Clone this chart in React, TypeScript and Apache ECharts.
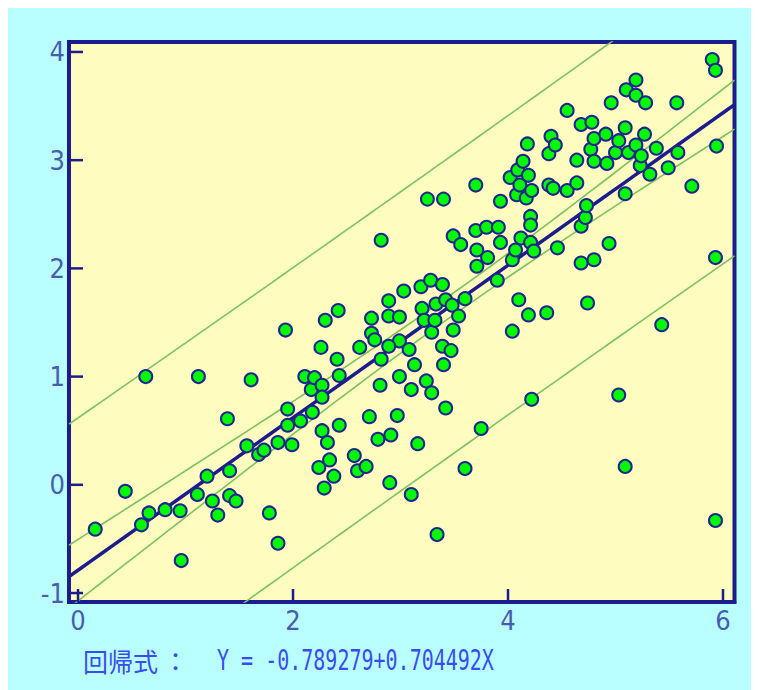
import React, { useEffect, useRef } from "react";
import * as echarts from "echarts";

// ---- data ----
const INTERCEPT = -0.789279;
const SLOPE = 0.704492;
const X_TICKS = [0, 2, 4, 6];
const Y_TICKS = [-1, 0, 1, 2, 3, 4];
const FORMULA_LABEL = "回帰式";
const FORMULA_TEXT = "Y = -0.789279+0.704492X";

const observations: [number, number][] = [
  [0.16, -0.41], [0.44, -0.06], [0.59, -0.37], [0.63, 1.0], [0.66, -0.26], [0.81, -0.23], [0.95, -0.24], [0.96, -0.7],
  [1.12, 1.0], [1.11, -0.09], [1.2, 0.08], [1.25, -0.15], [1.3, -0.28], [1.39, 0.61], [1.41, 0.13], [1.41, -0.1],
  [1.47, -0.15], [1.57, 0.36], [1.61, 0.97], [1.68, 0.28], [1.73, 0.32], [1.78, -0.26], [1.86, 0.39], [1.86, -0.54],
  [1.93, 1.43], [1.95, 0.7], [1.95, 0.55], [1.99, 0.37],
  [2.07, 0.59], [2.11, 1.0], [2.18, 0.67], [2.17, 0.88], [2.2, 0.99], [2.26, 1.27], [2.27, 0.92], [2.27, 0.81],
  [2.27, 0.5], [2.32, 0.39], [2.34, 0.23], [2.24, 0.16], [2.38, 0.08], [2.29, -0.03], [2.3, 1.52], [2.42, 1.61],
  [2.41, 1.16], [2.43, 1.01], [2.43, 0.55], [2.57, 0.27], [2.6, 0.13], [2.68, 0.17], [2.62, 1.27], [2.71, 0.63],
  [2.73, 1.54], [2.73, 1.4], [2.76, 1.34], [2.82, 1.16], [2.79, 0.42], [2.81, 0.92], [2.9, 0.02], [2.89, 1.7],
  [2.89, 1.56], [2.99, 1.55], [2.99, 1.33], [2.89, 1.28], [2.99, 1.0], [2.97, 0.64], [2.91, 0.46], [2.82, 2.26],
  [3.03, 1.79], [3.08, 1.25], [3.1, -0.09], [3.1, 0.88], [3.13, 1.11], [3.16, 0.38], [3.19, 1.83], [3.2, 1.63],
  [3.22, 1.52], [3.24, 0.96], [3.25, 2.64], [3.28, 1.89], [3.29, 1.41], [3.29, 0.85], [3.33, 1.67], [3.32, 1.52],
  [3.34, -0.46], [3.39, 1.85], [3.39, 1.28], [3.4, 1.11], [3.4, 2.64], [3.42, 1.71], [3.42, 0.71], [3.47, 1.24],
  [3.48, 1.66], [3.49, 1.43], [3.49, 2.3], [3.54, 1.56], [3.56, 2.22], [3.6, 1.72], [3.6, 0.15], [3.7, 2.77],
  [3.7, 2.35], [3.71, 2.17], [3.71, 2.02], [3.75, 0.52], [3.8, 2.38], [3.81, 2.1], [3.91, 2.38], [3.9, 1.89],
  [3.93, 2.62], [3.93, 2.24],
  [4.02, 2.84], [4.04, 2.08], [4.04, 1.42], [4.07, 2.17], [4.08, 2.68], [4.09, 2.91], [4.11, 2.77], [4.1, 1.71],
  [4.12, 2.28], [4.14, 2.99], [4.17, 2.65], [4.18, 3.15], [4.19, 2.86], [4.19, 1.57], [4.21, 2.48], [4.21, 2.4],
  [4.21, 2.24], [4.22, 2.72], [4.22, 0.79], [4.24, 2.16], [4.36, 1.59], [4.38, 3.06], [4.38, 2.77], [4.4, 3.22],
  [4.42, 2.74], [4.44, 3.14], [4.46, 2.19], [4.55, 2.72], [4.55, 3.46], [4.64, 3.0], [4.64, 2.79], [4.68, 3.33],
  [4.68, 2.39], [4.68, 2.05], [4.72, 2.47], [4.73, 2.58], [4.74, 1.68], [4.77, 3.1], [4.78, 3.35], [4.8, 3.2],
  [4.8, 2.99], [4.8, 2.08], [4.91, 3.24], [4.92, 2.97], [4.94, 2.23], [4.96, 3.53],
  [5.0, 3.07], [5.03, 3.18], [5.03, 0.83], [5.09, 3.3], [5.09, 2.69], [5.09, 0.17], [5.1, 3.65], [5.12, 3.07],
  [5.19, 3.74], [5.19, 3.6], [5.19, 3.14], [5.23, 2.95], [5.24, 3.04], [5.27, 3.24], [5.28, 3.53], [5.32, 2.87],
  [5.38, 3.11], [5.43, 1.48], [5.49, 2.93], [5.57, 3.53], [5.58, 3.07], [5.71, 2.76], [5.9, 3.93], [5.93, 3.83],
  [5.93, 2.1], [5.93, -0.33], [5.94, 3.13],
];

// axis extents read from the frame
const X_MIN = -0.084;
const X_MAX = 6.107;
const Y_MIN = -1.083;
const Y_MAX = 4.092;
const T_VALUE = 1.97; // 95% two-sided

function buildLines() {
  const n = observations.length;
  const xbar = observations.reduce((s, p) => s + p[0], 0) / n;
  const sxx = observations.reduce((s, p) => s + (p[0] - xbar) ** 2, 0);
  const sse = observations.reduce((s, p) => s + (p[1] - (INTERCEPT + SLOPE * p[0])) ** 2, 0);
  const sd = Math.sqrt(sse / (n - 2));
  const reg: number[][] = [];
  const ciU: number[][] = [];
  const ciL: number[][] = [];
  const piU: number[][] = [];
  const piL: number[][] = [];
  const steps = 60;
  for (let i = 0; i <= steps; i++) {
    const x = X_MIN + ((X_MAX - X_MIN) * i) / steps;
    const yhat = INTERCEPT + SLOPE * x;
    const k = 1 / n + (x - xbar) ** 2 / sxx;
    const ci = T_VALUE * sd * Math.sqrt(k);
    const pi = T_VALUE * sd * Math.sqrt(1 + k);
    reg.push([x, yhat]);
    ciU.push([x, yhat + ci]);
    ciL.push([x, yhat - ci]);
    piU.push([x, yhat + pi]);
    piL.push([x, yhat - pi]);
  }
  return { reg, ciU, ciL, piU, piL };
}

const NAVY = "#1c1c8c";
const BAND = "#7cc35f";
const TICK_LABEL = "#4a5cae";
const TEXT_BLUE = "#3a4cf0";
const NUM_FONT = "'Liberation Sans Narrow', 'DejaVu Sans Condensed', 'Roboto Condensed', 'Liberation Sans', sans-serif";

export default function App() {
  const ref = useRef<HTMLDivElement>(null);
  useEffect(() => {
    document.documentElement.style.overflow = "hidden";
    if (!ref.current) return;
    const chart = echarts.init(ref.current, undefined, { renderer: "svg" });
    const { reg, ciU, ciL, piU, piL } = buildLines();
    const bandSeries = (data: number[][]) => ({
      type: "line",
      data,
      symbol: "none",
      clip: true,
      silent: true,
      z: 2,
      lineStyle: { color: BAND, width: 1.6 },
    });
    chart.setOption({
      animation: false,
      backgroundColor: "#b9ffff",
      grid: {
        left: 61,
        top: 34,
        right: 24.5,
        bottom: 88,
        show: true,
        backgroundColor: "#fffcc0",
        borderColor: NAVY,
        borderWidth: 4,
      },
      xAxis: {
        type: "value",
        position: "bottom",
        min: X_MIN,
        max: X_MAX,
        axisLine: { show: true, onZero: false, lineStyle: { color: NAVY, width: 4 } },
        splitLine: { show: false },
        axisTick: { show: false },
        axisLabel: { customValues: X_TICKS, color: TICK_LABEL, fontSize: 27, fontFamily: NUM_FONT, margin: 5 },
      },
      yAxis: {
        type: "value",
        position: "left",
        min: Y_MIN,
        max: Y_MAX,
        axisLine: { show: true, onZero: false, lineStyle: { color: NAVY, width: 4 } },
        splitLine: { show: false },
        axisTick: { show: false },
        axisLabel: { customValues: Y_TICKS, color: TICK_LABEL, fontSize: 27, fontFamily: NUM_FONT, margin: 4 },
      },
      series: [
        bandSeries(piU),
        bandSeries(piL),
        bandSeries(ciU),
        bandSeries(ciL),
        {
          type: "line",
          data: reg,
          symbol: "none",
          clip: true,
          silent: true,
          z: 3,
          lineStyle: { color: NAVY, width: 3.5 },
        },
        {
          type: "scatter",
          data: observations,
          symbol: "circle",
          symbolSize: 13,
          z: 4,
          itemStyle: { color: "#00f800", borderColor: "#23238f", borderWidth: 2, opacity: 1 },
        },
        {
          // inward tick marks on the bottom frame, one per x tick value
          type: "custom",
          silent: true,
          clip: false,
          z: 6,
          data: X_TICKS.map((v) => [v, Y_MIN]),
          renderItem: (params: any, api: any) => {
            const p = api.coord([api.value(0), api.value(1)]);
            return {
              type: "line",
              shape: { x1: p[0], y1: p[1], x2: p[0], y2: p[1] - 13 },
              style: { stroke: NAVY, lineWidth: 2.5 },
            };
          },
        },
        {
          // inward tick marks on the left frame, one per y tick value
          type: "custom",
          silent: true,
          clip: false,
          z: 6,
          data: Y_TICKS.map((v) => [X_MIN, v]),
          renderItem: (params: any, api: any) => {
            const p = api.coord([api.value(0), api.value(1)]);
            return {
              type: "line",
              shape: { x1: p[0], y1: p[1], x2: p[0] + 14, y2: p[1] },
              style: { stroke: NAVY, lineWidth: 2.5 },
            };
          },
        },
      ],
      graphic: [
        {
          type: "text",
          x: 75,
          y: 652,
          scaleY: 1.06,
          style: {
            text: FORMULA_LABEL,
            fill: TEXT_BLUE,
            fontSize: 25,
            fontFamily: "'Noto Sans CJK JP', sans-serif",
            verticalAlign: "middle",
            align: "left",
          },
        },
        {
          type: "text",
          x: 155,
          y: 652,
          style: {
            text: "：",
            fill: TEXT_BLUE,
            fontSize: 25,
            fontFamily: "'Noto Sans CJK JP', sans-serif",
            verticalAlign: "middle",
            align: "left",
          },
        },
        {
          type: "text",
          x: 209,
          y: 652,
          scaleY: 1.4,
          style: {
            text: FORMULA_TEXT,
            fill: TEXT_BLUE,
            fontSize: 20,
            fontFamily: "'DejaVu Sans Mono', 'Liberation Mono', monospace",
            verticalAlign: "middle",
            align: "left",
          },
        },
      ],
    });
    return () => chart.dispose();
  }, []);
  return <div ref={ref} style={{ width: 751, height: 682 }} />;
}
